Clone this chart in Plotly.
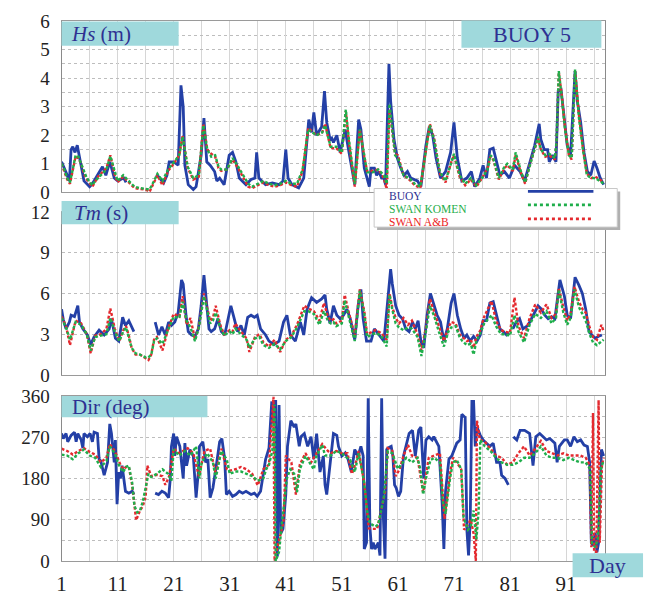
import plotly.graph_objects as go

# ---------------- data (day, value); None = missing buoy record ----------------
HS_BUOY = [(1,1.07),(1.4,0.9),(1.8,0.7),(2.4,0.4),(2.7,1.5),(3.0,1.6),(3.4,1.4),(3.8,1.65),(4.2,1.2),(4.6,0.8),(5,0.4),(5.5,0.3),(6,0.2),(6.5,0.3),(7.1,0.5),(7.7,0.7),(8.3,0.9),(8.9,0.6),(9.6,1.07),(10.0,0.8),(10.4,0.5),(11,0.4),(11.5,0.45),(12.1,0.5),(12.5,0.35),
           (15,None),
           (17.8,0.6),(18.3,0.55),(19.2,0.33),(19.8,0.6),(20.2,1.07),(21,1.07),(21.8,0.95),(22.1,2.5),(22.3,3.75),(22.7,3.0),(23,0.95),(23.6,0.27),(24.5,0.1),(25,0.2),(25.9,1.3),(26.4,2.6),(26.9,1.07),(27.5,0.95),(28.3,0.73),(28.7,0.4),(29.2,0.5),(30,0.27),(30.9,1.3),(31.5,1.4),(32.1,1.07),(32.7,0.5),(33.9,0.27),(34.8,0.45),(35.5,0.5),(35.8,1.4),(36.2,0.5),(37.4,0.27),(38.6,0.33),(39.8,0.27),(40.5,0.4),(41,1.5),(41.4,0.5),(42.1,0.27),(43.3,0.16),(44.2,0.5),(44.7,1.6),(45.1,2.55),(45.6,2.1),(46,2.8),(46.5,2.0),(47.4,2.3),(47.9,3.55),(48.3,2.45),(48.9,1.85),(49.2,1.9),(49.5,1.75),(50.1,2.0),(50.7,1.4),(51,1.7),(51.6,2.2),(52.1,1.6),(52.7,0.9),(53.3,0.27),(54,2.55),(54.4,2.2),(55,0.85),(55.9,0.2),(56.2,0.85),(56.8,0.85),(57.2,0.6),(57.6,0.73),(58.1,0.5),(58.5,0.5),(58.8,0.27),(59.1,2.5),(59.4,4.5),(59.7,3.2),(60.3,1.85),(60.9,1.2),(61.5,0.85),(62.1,0.6),(62.7,0.73),(63.3,0.5),(64.5,0.4),(65.1,0.2),(66,1.65),(66.6,2.3),(67.2,2.0),(67.8,1.2),(68.6,0.5),(69.5,0.73),(70.4,1.4),(71,2.45),(71.6,1.2),(72.4,0.4),(73.3,0.5),(74.1,0.73),(74.7,0.2),(75.6,0.5),(76.2,0.95),(76.8,0.5),(77.4,1.5),(78,1.55),(78.6,1.07),(79.2,0.6),(80,0.73),(80.9,0.5),(81.8,0.95),(82.8,0.73),(83.6,0.4),(84.5,1.07),(85.4,1.65),(86.2,2.4),(86.5,1.85),(87.1,1.5),(87.7,1.5),(88,1.07),(88.6,1.3),(89.2,1.07),(89.6,3.55),(90.1,3.6),(90.6,2.65),(91.2,1.65),(91.8,1.3),(92.6,4.25),(93,3.2),(93.6,2.45),(94.2,1.4),(94.8,0.73),(95.4,0.6),(96,1.1),(96.5,0.85),(97.1,0.5),(97.7,0.27)]

HS_KOMEN = [(1,1.0),(1.5,0.8),(2,0.5),(2.5,0.35),(3,0.8),(3.5,1.3),(4,1.25),(4.5,1.0),(5,0.7),(5.5,0.5),(6.5,0.25),(7,0.4),(7.5,0.5),(8.5,0.7),(9,0.8),(9.7,1.27),(10.2,0.9),(10.5,0.7),(11,0.4),(12,0.6),(13,0.4),(14,0.2),(15,0.15),(16,0.12),(16.7,0.1),(17.5,0.4),(18.1,0.65),(19,0.4),(20,0.8),(21,1.05),(22,1.3),(22.6,1.95),(23.5,0.9),(24.5,0.5),(25.5,0.6),(26.3,2.35),(27,1.5),(27.7,1.25),(28.4,1.3),(29,0.9),(29.5,0.8),(30.5,0.8),(31.5,1.2),(32.5,0.9),(33.5,0.55),(34.3,0.3),(35,0.2),(36,0.3),(37,0.4),(38,0.3),(39,0.25),(40,0.3),(41,0.4),(42,0.3),(43,0.3),(44,0.8),(45,2.2),(46.5,2.0),(47.5,2.1),(48,2.35),(49,1.6),(50,1.6),(51,1.4),(51.7,2.9),(52.3,1.8),(53.3,0.3),(54.2,2.2),(55,1.3),(55.5,0.7),(56.5,0.7),(57.5,0.8),(58.5,0.6),(59,0.3),(59.5,3.1),(60.5,1.3),(61,1.2),(62,0.6),(63,0.5),(64,0.3),(65,0.2),(66,1.5),(66.7,2.35),(67.5,1.8),(68.5,0.7),(69.5,0.4),(70.5,1.0),(71,1.35),(72,0.6),(73,0.3),(74,0.5),(75,0.25),(76,0.5),(77,0.8),(77.5,1.3),(78,1.2),(79,0.5),(80,0.9),(80.5,1.0),(81.5,0.8),(82,1.4),(83,0.7),(83.7,0.35),(84.5,0.9),(85.5,1.55),(86,1.95),(86.5,1.5),(87.3,1.3),(88,1.35),(89,1.2),(89.3,1.8),(89.7,4.25),(90.3,3.2),(90.8,2.2),(91.5,1.3),(92,1.2),(92.6,4.3),(93.3,2.6),(94,1.5),(94.7,0.6),(95.5,0.5),(96.2,0.5),(97,0.4),(97.7,0.3)]

HS_AB = [(1,1.0),(1.5,0.75),(2,0.45),(2.5,0.3),(3,0.8),(3.5,1.25),(4,1.2),(4.5,1.0),(5,0.65),(5.5,0.45),(6.5,0.2),(7,0.4),(7.5,0.55),(8.5,0.75),(9,0.85),(9.7,1.3),(10.2,0.85),(10.5,0.6),(11,0.35),(12,0.55),(13,0.35),(14,0.15),(15,0.12),(16,0.1),(16.7,0.02),(17.5,0.35),(18.1,0.6),(19,0.25),(20,0.75),(21,1.0),(22,1.3),(22.6,2.0),(23.5,0.85),(24.5,0.45),(25.5,0.55),(26.3,2.4),(27,1.5),(27.7,1.35),(28.4,1.25),(29,0.85),(29.5,0.75),(30.5,0.8),(31.5,1.15),(32.5,0.85),(33.5,0.5),(34.3,0.2),(35,0.15),(36,0.25),(37,0.35),(38,0.25),(39,0.2),(40,0.25),(41,0.35),(42,0.25),(43,0.2),(44,0.75),(45,2.25),(46.5,2.0),(47.5,2.1),(48,2.4),(49,1.55),(50,1.55),(51,1.35),(51.7,2.85),(52.3,1.7),(53.3,0.2),(54.2,2.2),(55,1.25),(55.5,0.75),(56.5,0.75),(57.5,0.8),(58.5,0.5),(59,0.1),(59.5,2.9),(60.5,1.35),(61,1.3),(62,0.6),(63,0.45),(64,0.25),(65,0.15),(66,1.5),(66.7,2.4),(67.5,1.85),(68.5,0.65),(69.5,0.35),(70.5,1.05),(71,1.3),(72,0.55),(73,0.25),(74,0.45),(75,0.2),(76,0.5),(77,0.85),(77.5,1.25),(78,1.15),(79,0.45),(80,0.85),(80.5,0.95),(81.5,0.75),(82,1.3),(83,0.65),(83.7,0.3),(84.5,0.95),(85.5,1.6),(86,1.9),(86.5,1.5),(87.3,1.25),(88,1.3),(89,1.15),(89.3,1.75),(89.7,4.2),(90.3,3.3),(90.8,2.3),(91.5,1.3),(92,1.15),(92.6,4.25),(93.3,2.7),(94,1.55),(94.7,0.65),(95.5,0.5),(96.2,0.55),(97,0.45),(97.7,0.35)]

TM_BUOY = [(1,4.85),(1.3,4.1),(1.8,3.4),(2.4,3.9),(2.7,4.4),(3.3,4.3),(3.9,5.1),(4.2,3.9),(4.8,3.4),(5.6,2.95),(6.2,2.25),(6.8,2.8),(7.7,3.3),(8.6,2.95),(9.5,3.4),(9.9,4.15),(10.6,2.7),(11.2,2.5),(11.9,4.25),(12.4,3.65),(13,4.0),(13.6,3.4),(13.9,3.2),
           (15,None),
           (17.7,3.9),(18.3,2.95),(18.9,3.55),(19.5,2.95),(20.1,3.9),(20.6,3.65),(21.2,3.9),(21.8,4.6),(22.4,7.0),(22.7,6.7),(23.2,4.4),(23.6,3.2),(24.2,2.95),(24.8,2.85),(25.4,3.4),(25.9,5.1),(26.4,7.35),(26.8,5.8),(27.3,3.4),(27.7,3.2),(28.3,3.4),(28.9,4.15),(29.5,3.2),(30.1,2.95),(30.6,3.9),(31.2,5.1),(31.8,4.15),(32.4,3.2),(33,3.65),(33.6,2.95),(34.2,4.25),(34.8,4.4),(35.4,4.25),(35.9,4.4),(36.5,3.4),(37.4,2.95),(38,2.5),(38.9,2.25),(39.8,2.5),(40.6,3.9),(41.2,4.4),(41.8,2.95),(42.7,2.5),(43.6,3.9),(44.2,2.95),(44.8,4.85),(45.6,5.7),(46.5,5.35),(47.4,5.6),(48,5.9),(48.3,4.85),(48.9,3.8),(49.5,5.1),(50.1,4.4),(50.7,4.15),(51.3,4.4),(51.9,4.85),(52.5,4.15),(53.3,2.6),(53.9,5.1),(54.4,6.3),(54.8,4.15),(55.4,2.5),(56.2,2.5),(56.8,3.4),(57.6,2.95),(58.5,2.5),(59.1,5.1),(59.7,7.8),(60,6.7),(60.6,5.1),(61.2,4.4),(61.8,4.15),(62.4,3.4),(63,3.2),(63.6,3.9),(64.1,3.4),(64.6,4.0),(65.1,2.5),(65.6,2.0),(66.2,4.4),(66.8,6.0),(67.4,5.1),(68,4.4),(68.6,3.9),(69.2,2.5),(69.8,3.4),(70.5,5.3),(71,6.0),(71.6,4.4),(72.2,3.4),(72.8,2.7),(73.3,2.95),(73.9,2.5),(74.5,2.85),(75.1,2.5),(75.7,2.95),(76.2,4.0),(76.8,4.0),(77.4,5.3),(78,5.4),(78.6,4.4),(79.2,3.4),(79.8,3.2),(80.4,2.95),(80.9,3.05),
           (81.2,None),
           (81.5,3.4),(82.1,3.9),(82.7,4.15),(83.3,3.4),(84.2,3.65),(85.1,4.4),(86,5.1),(86.6,4.85),(87.2,4.4),(87.8,4.15),(88.4,4.3),(89,4.15),(89.5,6.0),(89.9,7.0),(90.7,5.8),(91.2,4.4),(91.8,4.15),(92.6,7.2),(93.3,6.6),(93.9,6.0),(94.5,4.85),(95.1,3.2),(95.6,2.95),(96.2,2.7),(96.8,2.85),(97.4,2.95)]

TM_KOMEN = [(1,4.2),(1.8,3.5),(2.5,2.6),(3.5,3.9),(4.5,3.7),(5.5,3.0),(6.2,1.8),(7,2.8),(8,2.9),(9,3.0),(9.7,4.2),(10.5,3.2),(11.3,2.5),(12,3.2),(12.5,3.5),(13,2.8),(13.5,2.0),(14.2,1.6),(15,1.5),(16,1.3),(16.5,1.3),(17,1.5),(17.5,2.5),(18,2.7),(19,2.3),(20,3.3),(21,4.3),(22,4.2),(22.6,5.4),(23.3,4.0),(24,3.5),(24.8,2.5),(25.5,3.5),(26.4,5.8),(27,4.7),(27.5,3.8),(28,4.0),(28.5,4.6),(29.3,3.5),(30,2.9),(31,3.2),(31.5,3.0),(32,3.4),(33,3.0),(34,2.6),(34.5,2.0),(35.5,2.7),(36.3,2.8),(37,2.2),(38,2.0),(39,2.3),(40,1.9),(41,2.5),(42,2.8),(43,3.5),(44.3,4.7),(45,4.7),(46,4.5),(47,3.7),(47.8,4.7),(48.5,4.0),(49,3.8),(49.5,3.9),(50,3.6),(51,3.8),(51.5,5.5),(52.3,4.2),(53.3,2.5),(54.2,6.2),(55,4.5),(55.5,2.8),(56,2.9),(57,3.1),(58,2.9),(59,2.1),(59.5,5.9),(60,4.8),(60.6,3.8),(61.2,3.5),(62,3.3),(62.8,3.5),(63.5,3.4),(64.5,2.8),(65.2,1.4),(66,3.2),(66.7,5.1),(67.5,4.3),(68.3,3.2),(69.2,2.1),(70,3.2),(70.5,3.5),(71.3,3.6),(72,2.8),(72.5,2.5),(73.3,2.2),(74,2.3),(74.5,1.5),(75,2.5),(75.6,3.0),(76.4,3.8),(77.7,4.4),(78.5,3.6),(79.4,3.0),(80,3.0),(81,2.9),(81.8,4.4),(82.5,3.2),(83.5,2.4),(84.5,3.7),(85.5,4.5),(86.5,4.2),(87.5,4.7),(88.4,3.8),(89.2,4.2),(89.7,6.3),(90.5,4.6),(91.2,3.7),(91.8,4.2),(92.5,6.3),(93.3,5.0),(94,4.4),(94.5,4.0),(95.2,3.0),(95.8,2.4),(96.5,2.2),(97.3,2.5),(97.7,2.6)]

TM_AB = [(1,4.3),(1.8,3.6),(2.5,2.2),(3.5,4.0),(4.5,3.8),(5.5,3.0),(6.2,1.6),(7,2.9),(8,3.0),(9,3.4),(9.7,4.9),(10.5,3.4),(11.3,2.5),(12,3.3),(12.5,3.6),(13,2.9),(13.5,2.0),(14.2,1.5),(15,1.5),(16,1.2),(16.5,1.1),(17,1.5),(17.5,2.6),(18,2.8),(19,1.8),(20,3.4),(21,4.5),(22,4.3),(22.6,5.8),(23.3,3.7),(24,4.2),(24.8,2.6),(25.5,3.6),(26.4,6.0),(27,4.9),(27.5,4.0),(28,4.2),(28.5,5.1),(29.3,3.7),(30,3.0),(31,3.3),(31.5,3.2),(32,3.8),(33,3.2),(34,2.7),(34.5,1.7),(35.5,2.8),(36.3,3.0),(37,2.4),(38,2.1),(39,2.6),(40,1.7),(41,2.6),(42,2.9),(43,3.7),(44.3,5.1),(45,4.9),(46,4.7),(47,4.0),(47.8,5.3),(48.5,4.3),(49,4.0),(49.5,4.1),(50,3.8),(51,4.0),(51.5,5.9),(52.3,4.5),(53.3,2.9),(54.2,6.3),(55,4.7),(55.5,3.0),(56,3.1),(57,3.3),(58,3.1),(59,2.6),(59.5,6.0),(60,5.0),(60.6,4.2),(61.2,3.8),(62,4.2),(62.8,3.7),(63.5,4.0),(64.5,3.0),(65.2,1.8),(66,3.5),(66.7,5.6),(67.5,4.6),(68.3,3.5),(69.2,2.5),(70,3.5),(70.5,3.9),(71.3,3.8),(72,3.0),(72.5,2.8),(73.3,2.5),(74,2.6),(74.5,2.0),(75,2.8),(75.6,3.2),(76.4,4.3),(77.7,5.45),(78.5,4.0),(79.4,3.3),(80,3.2),(81,3.1),(81.8,5.7),(82.5,3.6),(83.5,2.7),(84.5,4.2),(85.5,5.2),(86.5,4.6),(87.5,5.2),(88.4,4.2),(89.2,4.5),(89.7,6.4),(90.5,5.0),(91.2,4.0),(91.8,4.5),(92.5,6.5),(93.3,5.4),(94,4.8),(94.5,4.6),(95.2,3.5),(95.8,2.8),(96.5,2.6),(97.3,3.7),(97.7,3.2)]

DIR_BUOY = [(1,278),(1.3,267),(1.8,278),(2.1,260),(2.7,274),(3.3,281),(3.6,260),(3.9,278),(4.5,264),(4.8,246),(5,278),(5.6,271),(6.1,278),(6.5,260),(6.8,281),(7.4,278),(7.7,222),(8,218),(8.6,187),(9.2,215),(9.6,299),(9.9,278),(10.4,215),(10.6,264),(10.9,124),(11.2,194),(11.5,180),(11.8,208),(12.1,180),(12.4,152),(13,148),(13.6,152),(13.9,145),
            (15,None),
            (17.7,148),(18.3,145),(18.9,152),(19.5,148),(20.1,138),(20.4,180),(20.6,250),(21,278),(21.2,229),(21.5,271),(22.1,250),(22.7,180),(23,257),(23.3,208),(23.9,243),(24.5,229),(25,138),(25.4,194),(25.6,250),(26.2,260),(26.7,215),(27.1,222),(27.5,138),(28,159),(28.6,208),(29.2,260),(29.6,267),(30.1,222),(30.4,145),(30.9,152),(31.5,141),(32.1,145),(32.7,152),(33.3,148),(33.9,152),(34.8,145),(35.4,148),(35.9,141),(36.5,152),(37.4,222),(38,246),(38.5,348),(38.7,300),(38.9,348),(39.2,348),(39.5,10),(39.8,340),(40.1,60),(40.5,70),(41,145),(41.3,250),(41.9,306),(42.5,292),(42.8,299),(43.4,250),(43.7,271),(44.3,278),(44.9,250),(45.5,271),(46,222),(46.5,278),(47.1,194),(47.7,229),(48,166),(48.3,145),(48.9,215),(49.5,278),(50.1,274),(50.4,250),(51,229),(51.6,236),(52.1,222),(52.7,194),(53.3,243),(53.9,229),(54.4,250),(54.8,229),(55,26),(55.4,40),(55.7,355),(56,75),(56.3,26),(56.6,40),(56.9,26),(57.5,40),(57.8,12),(58.1,355),(58.4,96),(58.7,5),(59,243),(59.2,246),(59.8,250),(60.1,229),(60.4,166),(60.7,159),(61.1,141),(61.5,152),(62,229),(62.4,250),(63,278),(63.6,285),(64.1,229),(64.7,285),(65.1,292),(65.6,180),(66,264),(66.5,271),(67.1,264),(67.4,271),(67.7,264),(68.3,250),(68.9,124),(69.2,26),(69.5,152),(70.1,222),(70.6,229),(71.5,257),(72.1,264),(72.4,320),(73,313),(73.3,68),(73.6,12),(73.9,89),(74.2,348),(74.5,348),(74.8,250),(75.1,292),(75.7,274),(76.2,264),(76.8,257),(77.4,250),(78,257),(78.6,215),(79.2,215),(79.5,187),(80.1,180),(80.7,166),
            (81.2,None),
            (81.6,271),(82.2,264),(82.8,285),(83.6,285),(84.5,278),(85.1,208),(85.6,271),(86.3,278),(86.9,271),(87.5,264),(88.1,267),(89,257),(89.4,215),(89.8,250),(90.7,264),(91.2,264),(91.8,250),(92.4,271),(93,260),(93.6,264),(94.2,253),(94.8,250),(95.2,215),(95.5,40),(95.8,33),(96.2,61),(96.5,19),(96.8,40),(97.3,243),(97.7,229)]

DIR_KOMEN = [(1,232),(2,230),(3,222),(4,235),(5,243),(6,230),(7,225),(8,205),(9,218),(9.6,250),(10.5,235),(11.2,210),(12,194),(12.5,205),(13,208),(13.6,170),(14,120),(14.5,106),(15,110),(15.5,130),(16,160),(16.5,190),(17,183),(18,190),(19,200),(20,190),(20.6,175),(21,243),(22,230),(23,240),(24,230),(25,250),(25.6,180),(26,215),(27,235),(28,215),(28.5,180),(29.5,240),(30.5,220),(31,190),(32,195),(33,195),(34,190),(35,185),(36,175),(37,180),(37.5,200),(38,210),(38.6,240),(39,341),(39.2,0),(39.8,20),(40.3,82),(40.8,140),(41.2,180),(41.8,200),(42.5,190),(43,150),(43.5,200),(44.5,229),(45,220),(46,200),(46.5,230),(47.5,253),(48,230),(49,230),(50,240),(51,235),(51.5,229),(52.5,220),(53.3,194),(54,235),(55,170),(55.5,110),(56,82),(57,75),(57.5,80),(58,110),(58.5,140),(59.2,239),(60,235),(61,201),(61.5,210),(62.5,225),(63.5,215),(64.5,225),(65,200),(65.5,145),(66,180),(66.8,220),(67.5,225),(68.5,215),(69,130),(69.5,103),(70.3,180),(70.8,215),(71.5,220),(72.3,200),(72.7,96),(73.5,68),(74,75),(74.5,110),(75,47),(75.4,110),(75.7,264),(76.5,250),(77.5,240),(78.5,225),(79.5,215),(80.5,210),(81.5,210),(82.5,215),(83.5,225),(84.5,225),(85.5,235),(86.5,250),(87.5,230),(88.5,225),(89.5,225),(90.5,220),(91.5,225),(92.5,220),(93.5,215),(94.5,215),(95.3,200),(95.6,40),(96.2,30),(96.7,50),(97.2,200),(97.7,220)]

DIR_AB = [(1,245),(2,240),(3,232),(4,240),(5,246),(6,238),(7,232),(8,215),(9,225),(9.6,255),(10.5,240),(11.5,210),(12,200),(12.5,205),(13,205),(13.6,165),(14.3,89),(15,110),(15.5,120),(16,140),(16.3,208),(17,185),(18,188),(19,185),(19.5,166),(20.2,185),(21,245),(22,235),(23.5,246),(24.5,235),(25.5,185),(26.5,240),(27.5,245),(28.5,190),(29.5,245),(30.5,200),(31,197),(32,200),(33,205),(34,200),(35,190),(36,165),(37,200),(38,210),(38.8,358),(39,0),(39.5,30),(40,55),(40.6,85),(41,230),(42,215),(42.8,145),(43.5,210),(44.5,235),(45.5,215),(46.5,235),(47.5,255),(48.5,240),(49,235),(50,240),(51,235),(52,235),(52.8,190),(53.5,215),(54,240),(55,170),(55.8,71),(56.5,70),(57.3,70),(58,110),(58.7,150),(59.2,246),(60,240),(60.6,185),(61.3,200),(62,230),(62.8,253),(63.5,230),(64.5,225),(65.5,150),(66.5,225),(67.5,230),(68.5,235),(69.3,92),(70.3,190),(70.8,225),(71.5,215),(72.3,200),(72.8,68),(73.5,80),(74,90),(74.5,60),(74.9,0),(75.1,306),(75.6,265),(76.5,260),(77.5,245),(78.5,230),(79.5,225),(80.5,210),(81.5,215),(82.5,235),(83.5,250),(84.5,230),(85.5,245),(86.5,262),(87.5,240),(88.5,235),(89.5,230),(90.5,235),(91.5,230),(92.5,230),(93.5,230),(94.5,225),(95.2,210),(95.5,30),(95.8,323),(96.0,20),(96.4,20),(96.8,351),(97.0,40),(97.4,210),(97.7,225)]

X_TICKS = [1, 11, 21, 31, 41, 51, 61, 71, 81, 91]
SERIES_NAMES = ["BUOY", "SWAN KOMEN", "SWAN A&B"]
PANEL_LABELS = ["<i>Hs</i> (m)", "<i>Tm</i> (s)", "Dir (deg)"]

# ---------------- styling ----------------
W, H = 648, 598
BLUE, GREEN, RED = "#2440a6", "#1fae4b", "#e42a2f"
TXT = "#2e3192"
BOX = "#9fd9dc"
FONT = "Liberation Serif"

def fx(p): return p / W
def fy(p): return 1 - p / H

def split(pairs):
    return [p[0] for p in pairs], [p[1] for p in pairs]

fig = go.Figure()
panels = [(HS_BUOY, HS_KOMEN, HS_AB), (TM_BUOY, TM_KOMEN, TM_AB), (DIR_BUOY, DIR_KOMEN, DIR_AB)]
for i, (b, k, a) in enumerate(panels):
    xa = "x" if i == 0 else f"x{i+1}"
    ya = "y" if i == 0 else f"y{i+1}"
    for data, col, dash, w, nm in [(b, BLUE, "solid", 2.8, SERIES_NAMES[0]),
                                   (a, RED, "3px,2px", 2.4, SERIES_NAMES[2]),
                                   (k, GREEN, "3px,2px", 2.4, SERIES_NAMES[1])]:
        x, y = split(data)
        fig.add_trace(go.Scatter(x=x, y=y, mode="lines", name=nm, xaxis=xa, yaxis=ya,
                                 line=dict(color=col, width=w, dash=dash),
                                 connectgaps=False, showlegend=False))

xdom = [fx(57), fx(605)]
ydoms = [[fy(189), fy(11.5)], [fy(378.3), fy(209.4)], [fy(571), fy(400)]]
yranges = [[0, 6], [0, 12], [0, 360]]
ydt = [1, 3, 90]
yminor = [0.5, None, 45]

layout = dict(width=W, height=H, margin=dict(l=0, r=0, t=0, b=0),
              paper_bgcolor="white", plot_bgcolor="white", showlegend=False,
              font=dict(family=FONT, color="#222", size=19))
for i in range(3):
    xs = "xaxis" if i == 0 else f"xaxis{i+1}"
    ys = "yaxis" if i == 0 else f"yaxis{i+1}"
    layout[xs] = dict(domain=xdom, range=[1, 98], anchor="y" if i == 0 else f"y{i+1}",
                      tickmode="array", tickvals=X_TICKS,
                      showticklabels=(i == 2), ticks="",
                      tickfont=dict(family=FONT, size=21, color="#222"),
                      showgrid=True, gridcolor="#d6d6d6", gridwidth=1,
                      minor=dict(tick0=1, dtick=5, showgrid=True, gridcolor="#d6d6d6", gridwidth=1),
                      showline=True, mirror=True, linecolor="#9a9a9a", linewidth=1,
                      zeroline=False, ticklabelstandoff=4)
    ydict = dict(domain=ydoms[i], range=yranges[i], anchor="x" if i == 0 else f"x{i+1}",
                 tickmode="linear", tick0=0, dtick=ydt[i], ticks="",
                 tickfont=dict(family=FONT, size=19, color="#222"),
                 showgrid=True, gridcolor="#bdbdbd", griddash="dot", gridwidth=1,
                 showline=True, mirror=True, linecolor="#8a8a8a", linewidth=1,
                 zeroline=False, ticklabelstandoff=7)
    if yminor[i]:
        ydict["minor"] = dict(dtick=yminor[i], tick0=0, showgrid=True, gridcolor="#bdbdbd", griddash="dot", gridwidth=1)
    layout[ys] = ydict
fig.update_layout(**layout)

# label boxes
shapes = []
annos = []
def box(x0, y0, x1, y1):
    shapes.append(dict(type="rect", xref="paper", yref="paper", x0=fx(x0), x1=fx(x1), y0=fy(y1), y1=fy(y0),
                       fillcolor=BOX, line=dict(width=0), layer="above"))
def label(text, x, y, size, anchor="left", color=TXT):
    annos.append(dict(text=text, xref="paper", yref="paper", x=fx(x), y=fy(y), xanchor=anchor, yanchor="middle",
                      showarrow=False, font=dict(family=FONT, size=size, color=color)))

box(57, 12, 175, 37);  label(PANEL_LABELS[0], 64, 24.5, 21)
box(460, 11, 601, 39); label("BUOY 5", 531, 25.5, 22, "center")
box(57, 198, 175, 222); label(PANEL_LABELS[1], 68, 210, 21)
box(57, 400, 204, 422); label(PANEL_LABELS[2], 66, 411, 21)
box(572, 563, 643, 588); label("Day", 607, 575.5, 22, "center")

# legend panel
shapes.append(dict(type="rect", xref="paper", yref="paper", x0=fx(375), x1=fx(620), y0=fy(228), y1=fy(188),
                   fillcolor="#b0b0b0", line=dict(width=0), layer="above"))
shapes.append(dict(type="rect", xref="paper", yref="paper", x0=fx(372), x1=fx(617), y0=fy(225), y1=fy(185),
                   fillcolor="white", line=dict(color="#c8c8c8", width=1), layer="above"))
leg_cols = [BLUE, GREEN, RED]
leg_txt_cols = [TXT, "#1fae4b", "#ec1c24"]
leg_dash = ["solid", "dot", "dot"]
for j, (nm, ty, ly) in enumerate(zip(SERIES_NAMES, [192.5, 206, 219.5], [188, 202, 216.5])):
    label(nm, 385, ty, 11.5, color=leg_txt_cols[j])
    shapes.append(dict(type="line", xref="paper", yref="paper", x0=fx(527), x1=fx(593), y0=fy(ly), y1=fy(ly),
                       line=dict(color=leg_cols[j], width=2.6, dash=leg_dash[j]), layer="above"))

fig.update_layout(shapes=shapes, annotations=annos)
fig.write_html("out.html")
